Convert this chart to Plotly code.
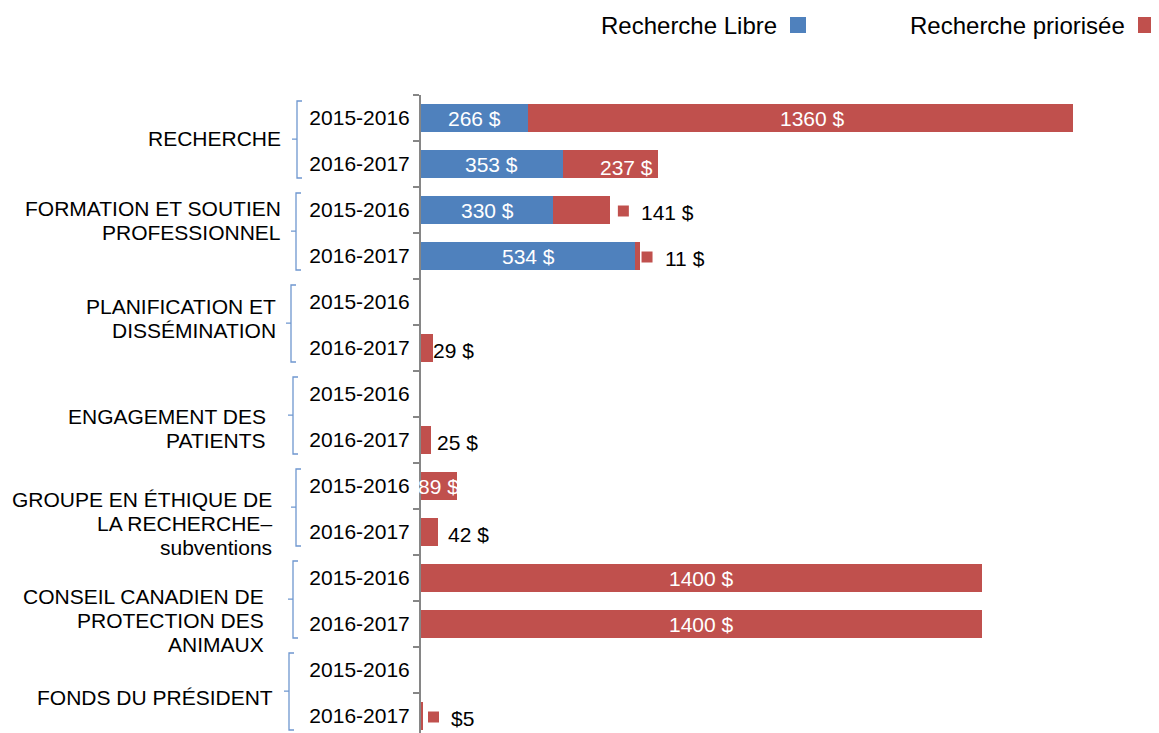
import plotly.graph_objects as go

# ---------------- data ----------------
group_lines = [
    ["RECHERCHE"],
    ["FORMATION ET SOUTIEN", "PROFESSIONNEL"],
    ["PLANIFICATION ET", "DISSÉMINATION"],
    ["ENGAGEMENT DES", "PATIENTS"],
    ["GROUPE EN ÉTHIQUE DE", "LA RECHERCHE–", "subventions"],
    ["CONSEIL CANADIEN DE", "PROTECTION DES", "ANIMAUX"],
    ["FONDS DU PRÉSIDENT"],
]
years = ["2015-2016", "2016-2017"]
libre = [266, 353, 330, 534, 0, 0, 0, 0, 0, 0, 0, 0, 0, 0]
priorisee = [1360, 237, 141, 11, 0, 29, 0, 25, 89, 42, 1400, 1400, 0, 5]
libre_labels = ["266 $", "353 $", "330 $", "534 $", "", "", "", "", "", "", "", "", "", ""]
prior_labels = ["1360 $", "237 $", "141 $", "11 $", "", "29 $", "", "25 $",
                "89 $", "42 $", "1400 $", "1400 $", "", "$5"]
series_names = ["Recherche Libre", "Recherche priorisée"]

# ---------------- styles / layout helpers ----------------
BLUE = "#4F81BD"
RED = "#C0504D"
AXIS = "#868686"
FONT = "Liberation Sans, Arial, sans-serif"
FS = 21

n_rows = len(libre)
rows = list(range(n_rows))
row_years = [years[i % 2] for i in rows]

OFF = 8  # page body margin compensation
W, H = 1159 - OFF, 733 - OFF
ML, MT, MR, MB = 421 - OFF, 95 - OFF, 40, 0
PW = W - ML - MR
PH = H - MT - MB
ROW_PX = 46
SCALE = 0.40098  # px per unit
x_max = PW / SCALE
y_bottom = -0.5 + PH / ROW_PX

# label placement styles for the "priorisée" series
prior_style = ["in", "in", "key", "key", "", "out", "", "out", "in", "out", "in", "in", "", "key"]
prior_dx = [12, 16, 8, 2, 0, 0, 0, 6, 0, 10, 0, 0, 0, 5]
prior_dy = [0, -3, -2, -2, 0, -2, 0, -2, 0, -2, 0, 0, 0, -2]
group_center_px = [-3, -13, -7, 11, 14, 19, 4]
group_right_px = [283, 283, 278, 268, 274, 266, 275]
bracket_px = [297, 296, 291, 293, 296, 293, 289]
LINE_PX = 24
AXIS_PX = 421

fig = go.Figure()
fig.add_trace(go.Bar(y=rows, x=libre, orientation="h", name=series_names[0],
                     marker=dict(color=BLUE, line=dict(width=0)), showlegend=False))
fig.add_trace(go.Bar(y=rows, x=priorisee, orientation="h", name=series_names[1],
                     marker=dict(color=RED, line=dict(width=0)), showlegend=False))

annotations = []
shapes = []

# value labels
for i in rows:
    if libre_labels[i]:
        annotations.append(dict(x=libre[i] / 2, y=i, xref="x", yref="y", text=libre_labels[i],
                                showarrow=False, xanchor="center", yanchor="middle",
                                font=dict(family=FONT, size=FS, color="white")))
    if prior_labels[i]:
        total = libre[i] + priorisee[i]
        st = prior_style[i]
        if st == "in":
            annotations.append(dict(x=libre[i] + priorisee[i] / 2, y=i, xref="x", yref="y",
                                    text=prior_labels[i], showarrow=False, xanchor="center",
                                    yanchor="middle", xshift=prior_dx[i], yshift=prior_dy[i],
                                    font=dict(family=FONT, size=FS, color="white")))
        elif st == "out":
            annotations.append(dict(x=total, y=i, xref="x", yref="y", text=prior_labels[i],
                                    showarrow=False, xanchor="left", yanchor="middle",
                                    xshift=prior_dx[i] - 2, yshift=prior_dy[i],
                                    font=dict(family=FONT, size=FS, color="black")))
        elif st == "key":
            shapes.append(dict(type="rect", xref="x", yref="y", xsizemode="pixel",
                               ysizemode="pixel", xanchor=total, yanchor=i,
                               x0=prior_dx[i], x1=prior_dx[i] + 11, y0=-6.5, y1=4.5,
                               fillcolor=RED, line=dict(width=0)))
            annotations.append(dict(x=total, y=i, xref="x", yref="y", text=prior_labels[i],
                                    showarrow=False, xanchor="left", yanchor="middle",
                                    xshift=prior_dx[i] + 21, yshift=prior_dy[i],
                                    font=dict(family=FONT, size=FS, color="black")))

# group labels and brackets
for g, lines in enumerate(group_lines):
    r0, r1 = 2 * g, 2 * g + 1
    mid = (r0 + r1) / 2
    n = len(lines)
    for k, line in enumerate(lines):
        off = group_center_px[g] + (k - (n - 1) / 2) * LINE_PX
        annotations.append(dict(x=0, y=mid, xref="paper", yref="y", text=line,
                                showarrow=False, xanchor="right", yanchor="middle",
                                xshift=group_right_px[g] - AXIS_PX, yshift=-off,
                                font=dict(family=FONT, size=FS, color="black")))
    top = r0 - 0.5 + 6 / ROW_PX
    bot = r1 + 0.5 - 9 / ROW_PX
    bx = bracket_px[g] - AXIS_PX
    path = (f"M {bx + 5},{top} L {bx},{top} L {bx},{bot} L {bx + 5},{bot} "
            f"M {bx},{mid - 0.04} L {bx - 5},{mid - 0.04}")
    shapes.append(dict(type="path", xref="paper", yref="y", xsizemode="pixel", xanchor=0,
                       path=path, line=dict(color="#6F97CF", width=1.3)))

# legend (text with key square on the right)
def px_x(px):
    return (px - OFF - ML) / PW

def px_y(py):
    return (H - MB - (py - OFF)) / PH

legend_items = [(series_names[0], BLUE, 779, 790), (series_names[1], RED, 1127, 1138)]
for name, col, text_right, sq_left in legend_items:
    annotations.append(dict(x=px_x(text_right), y=px_y(26), xref="paper", yref="paper",
                            text=name, showarrow=False, xanchor="right", yanchor="middle",
                            font=dict(family=FONT, size=24, color="black")))
    shapes.append(dict(type="rect", xref="paper", yref="paper",
                       x0=px_x(sq_left), x1=px_x(sq_left + 16),
                       y0=px_y(33), y1=px_y(17), fillcolor=col, line=dict(width=0)))

fig.update_layout(
    width=W, height=H,
    margin=dict(l=ML, r=MR, t=MT, b=MB),
    barmode="stack", bargap=0.41,
    plot_bgcolor="white", paper_bgcolor="white",
    showlegend=False,
    xaxis=dict(range=[0, x_max], visible=False, fixedrange=True),
    yaxis=dict(
        range=[y_bottom, -0.5], tickmode="array", tickvals=rows, ticktext=row_years,
        ticks="", showline=True, linecolor=AXIS, linewidth=2, showgrid=False,
        zeroline=False, ticklabelstandoff=5,
        tickfont=dict(family=FONT, size=FS, color="black"),
        minor=dict(tickmode="array", tickvals=[r - 0.5 for r in range(n_rows + 1)],
                   ticks="outside", ticklen=6, tickcolor=AXIS, tickwidth=2, showgrid=False),
    ),
    annotations=annotations,
    shapes=shapes,
)

fig.write_html("out.html")
